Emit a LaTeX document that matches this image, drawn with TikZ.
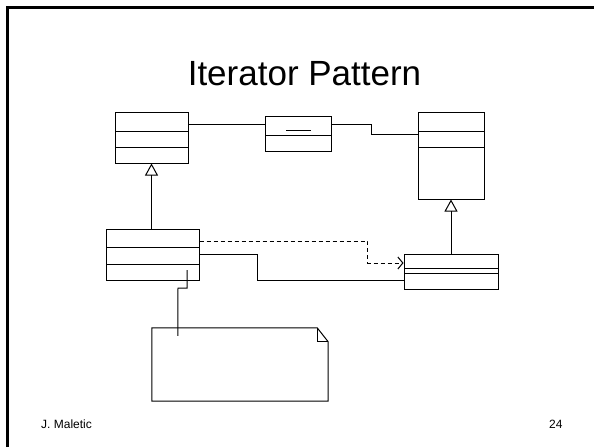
\documentclass[tikz,border=0pt]{standalone}
\usepackage{fontspec}
\setmainfont{Liberation Sans}
\usetikzlibrary{arrows.meta,calc}
\begin{document}
\begin{tikzpicture}[x=1pt,y=-1pt,
  umlbox/.style={draw=black,line width=1pt,rectangle,inner sep=0pt,fill=white},
  conn/.style={draw=black,line width=1pt},
  gen/.style={-{Triangle[open,width=13pt,length=12pt,line width=1pt]}},
  dep/.style={dashed,dash pattern=on 4pt off 3pt,-{Straight Barb[length=5pt,width=12pt,line width=1pt]}},
  frame/.style={draw=black,line width=2.5pt},
  title/.style={font=\fontsize{35}{41}\selectfont,anchor=base,inner sep=0pt},
  foot/.style={font=\fontsize{12}{14}\selectfont,anchor=base west,inner sep=0pt}]
\useasboundingbox (0,0) rectangle (594,447);
\fill[white] (0,0) rectangle (594,447);
% slide frame
\draw[frame] (7.5,447) -- (7.5,7.5) -- (594,7.5);
% title and footer
\node[title] (ttl) at (304.5,85) {Iterator Pattern};
\node[foot] (auth) at (41,428) {J. Maletic};
\node[foot] (pg) at (549,428) {24};
% classes
\node[umlbox,minimum width=73pt,minimum height=51pt] (b1) at (151.5,137.5) {};
\draw[conn] (115,131) -- (188,131) (115,147) -- (188,147);
\node[umlbox,minimum width=66pt,minimum height=35pt] (b2) at (298,133.5) {};
\draw[conn] (265,135) -- (331,135) (286,130) -- (311,130);
\node[umlbox,minimum width=66pt,minimum height=87pt] (b3) at (451,155.5) {};
\draw[conn] (418,131) -- (484,131) (418,147) -- (484,147);
\node[umlbox,minimum width=93pt,minimum height=51pt] (b4) at (152.5,254.5) {};
\draw[conn] (106,247) -- (199,247) (106,264) -- (199,264);
\node[umlbox,minimum width=94pt,minimum height=35pt] (b5) at (451,271.5) {};
\draw[conn] (404,268) -- (498,268) (404,273) -- (498,273);
% note
\node[inner sep=0pt,minimum width=176pt,minimum height=73pt] (note) at (240,364.5) {};
\draw[conn] (note.north west) -- ([xshift=-11pt]note.north east) -- ([yshift=-14pt]note.north east) -- (note.south east) -- (note.south west) -- cycle;
\draw[conn] ([xshift=-11pt]note.north east) -- ([xshift=-11pt,yshift=-14pt]note.north east) -- ([yshift=-14pt]note.north east);
% connectors
\draw[conn] ([yshift=13.5pt]b1.east) -- ([yshift=9.5pt]b2.west);
\draw[conn] ([yshift=9.5pt]b2.east) -- ++(40,0) |- ([yshift=21.5pt]b3.west);
\draw[conn,gen] (b4.north -| b1.south) -- (b1.south);
\draw[conn,gen] (b5.north) -- (b3.south);
\draw[conn,dep] ([yshift=13.5pt]b4.east) -- ++(168,0) |- ([yshift=8.5pt]b5.west);
\draw[conn] (b4.east) -- ++(58,0) |- ([yshift=-8.5pt]b5.west);
\draw[conn] ([xshift=34.5pt,yshift=-15.5pt]b4.center) -- ++(0,18) -- ++(-9,0) -- ([xshift=26pt,yshift=-8pt]note.north west);
\end{tikzpicture}
\end{document}
